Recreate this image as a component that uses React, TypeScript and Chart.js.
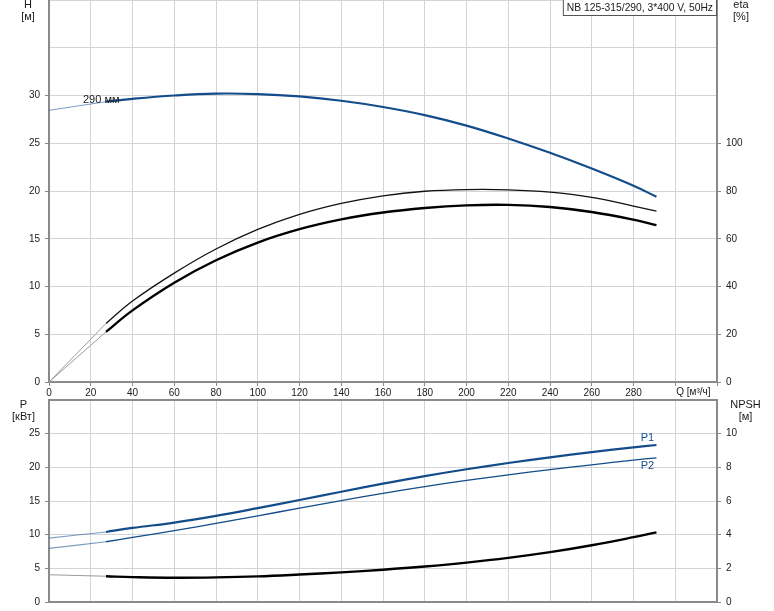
import React, { useEffect, useRef } from 'react';
import { Chart, registerables } from 'chart.js';

Chart.register(...registerables);

// ---- data ----
const qLead = [0, 27.3];
const qMain = [27.3, 40, 60, 80, 100, 120, 140, 160, 180, 200, 220, 240, 260, 280, 291];

const headLead = [28.45, 29.35];
const headMain = [29.35, 29.65, 30.0, 30.2, 30.15, 29.9, 29.45, 28.8, 27.95, 26.85, 25.5, 24.0, 22.35, 20.55, 19.4];

const etaPumpLead = [0, 24.5];
const etaPumpMain = [24.5, 33.9, 45.6, 55.7, 63.9, 70.2, 74.8, 78.0, 79.9, 80.6, 80.5, 79.5, 77.3, 73.7, 71.6];

const etaTotalLead = [0, 21.0];
const etaTotalMain = [21.0, 30.0, 41.6, 51.0, 58.4, 64.0, 68.1, 71.0, 72.9, 74.0, 74.2, 73.3, 71.2, 68.0, 65.7];

const p1Lead = [9.5, 10.4];
const p1Main = [10.4, 11.0, 11.8, 12.8, 13.95, 15.15, 16.37, 17.57, 18.69, 19.71, 20.64, 21.49, 22.27, 22.97, 23.32];

const p2Lead = [7.95, 8.95];
const p2Main = [8.95, 9.6, 10.6, 11.68, 12.8, 13.93, 15.05, 16.13, 17.13, 18.05, 18.89, 19.66, 20.38, 21.06, 21.42];

const npshLead = [1.62, 1.53];
const npshMain = [1.53, 1.48, 1.44, 1.46, 1.52, 1.63, 1.76, 1.92, 2.11, 2.34, 2.62, 2.96, 3.37, 3.85, 4.14];

const qTickLabels = [0, 20, 40, 60, 80, 100, 120, 140, 160, 180, 200, 220, 240, 260, 280];
const hTickLabels = [0, 5, 10, 15, 20, 25, 30];
const etaTickLabels = [0, 20, 40, 60, 80, 100];
const pTickLabels = [0, 5, 10, 15, 20, 25];
const npshTickLabels = [0, 2, 4, 6, 8, 10];

const titleText = 'NB 125-315/290, 3*400 V, 50Hz';
const curveLabel = '290 мм';

// ---- styles ----
const FONT = '"Liberation Sans", Arial, sans-serif';
const BLUE = '#134c8a';
const BLUE_LIGHT = 'rgba(19,76,138,0.55)';
const GRID = '#d2d4d7';
const AXIS = '#8a8a8a';
const TEXT = '#1a1a1a';
const LEAD = '#9a9a9a';

const xy = (qs: number[], vs: number[]) => qs.map((q, i) => ({ x: q, y: vs[i] }));

const line = (data: any[], color: string, width: number, axis: string) => ({
  data,
  borderColor: color,
  borderWidth: width,
  pointRadius: 0,
  fill: false,
  tension: 0.4,
  yAxisID: axis,
});

const zeroPad = (s: any) => {
  s.paddingTop = 0;
  s.paddingBottom = 0;
  s.paddingLeft = 0;
  s.paddingRight = 0;
};

const labelCb = (labels: number[]) => (v: any) => (labels.includes(Number(v)) ? String(v) : '');
const tickColorFor = (labels: number[]) => (ctx: any) =>
  ctx.tick && labels.includes(ctx.tick.value) ? AXIS : 'rgba(0,0,0,0)';

const tickFont = { family: FONT, size: 10 };

function xScale(showLabels: boolean, height: number) {
  return {
    type: 'linear' as const,
    position: 'bottom' as const,
    min: 0,
    max: 320,
    ticks: {
      stepSize: 20,
      autoSkip: false,
      maxRotation: 0,
      display: showLabels,
      font: tickFont,
      color: TEXT,
      padding: 1,
      callback: labelCb(qTickLabels),
    },
    grid: { color: GRID, lineWidth: 1, tickLength: 4, drawTicks: showLabels, tickColor: AXIS },
    border: { color: AXIS, width: 2 },
    afterFit: (s: any) => {
      s.height = height;
      zeroPad(s);
    },
  };
}

function yScale(pos: 'left' | 'right', max: number, step: number, labels: number[], width: number, onArea: boolean) {
  return {
    type: 'linear' as const,
    position: pos,
    min: 0,
    max,
    ticks: {
      stepSize: step,
      autoSkip: false,
      font: tickFont,
      color: TEXT,
      padding: 5,
      callback: labelCb(labels),
    },
    grid: {
      color: GRID,
      lineWidth: 1,
      drawOnChartArea: onArea,
      tickLength: 4,
      tickColor: tickColorFor(labels),
    },
    border: { color: AXIS, width: 2 },
    afterFit: (s: any) => {
      s.width = width;
      zeroPad(s);
    },
  };
}

const topTextPlugin = {
  id: 'topText',
  afterDraw(chart: any) {
    const { ctx, scales } = chart;
    ctx.save();
    ctx.fillStyle = TEXT;
    ctx.font = `11px ${FONT}`;
    ctx.textAlign = 'center';
    ctx.textBaseline = 'middle';
    ctx.fillText('H', 28, 5);
    ctx.fillText('[м]', 28, 17);
    ctx.fillText('eta', 741, 5);
    ctx.fillText('[%]', 741, 17);
    ctx.font = `10px ${FONT}`;
    ctx.textAlign = 'left';
    ctx.fillText('Q [м³/ч]', scales.x.getPixelForValue(300) + 1, 392.5);
    ctx.font = `11px ${FONT}`;
    ctx.fillText(curveLabel, 83, 99.5);
    // title box
    const right = chart.chartArea.right;
    ctx.font = `10.3px ${FONT}`;
    const w = ctx.measureText(titleText).width + 8;
    ctx.fillStyle = '#ffffff';
    ctx.fillRect(right - w, 0, w, 15.5);
    ctx.strokeStyle = '#555555';
    ctx.lineWidth = 1;
    ctx.strokeRect(right - w + 0.5, -0.5, w - 1, 16);
    ctx.fillStyle = TEXT;
    ctx.fillText(titleText, right - w + 4, 8);
    ctx.restore();
  },
};

const bottomTextPlugin = {
  id: 'bottomText',
  afterDraw(chart: any) {
    const { ctx, chartArea, scales } = chart;
    ctx.save();
    // top frame line
    ctx.strokeStyle = AXIS;
    ctx.lineWidth = 2;
    ctx.beginPath();
    ctx.moveTo(chartArea.left, chartArea.top);
    ctx.lineTo(chartArea.right, chartArea.top);
    ctx.stroke();
    ctx.fillStyle = TEXT;
    ctx.font = `11px ${FONT}`;
    ctx.textAlign = 'center';
    ctx.textBaseline = 'middle';
    ctx.fillText('P', 23.5, 7);
    ctx.fillText('[кВт]', 23.5, 19);
    ctx.fillText('NPSH', 745.5, 7);
    ctx.fillText('[м]', 745.5, 19);
    ctx.fillStyle = BLUE;
    const qEnd = qMain[qMain.length - 1];
    const ex = scales.x.getPixelForValue(qEnd);
    const y1 = scales.y.getPixelForValue(p1Main[p1Main.length - 1]);
    const y2 = scales.y.getPixelForValue(p2Main[p2Main.length - 1]);
    ctx.fillText('P1', ex - 9, y1 - 7);
    ctx.fillText('P2', ex - 9, y2 + 8);
    ctx.restore();
  },
};

export default function App() {
  const topRef = useRef<HTMLCanvasElement>(null);
  const botRef = useRef<HTMLCanvasElement>(null);

  useEffect(() => {
    if (!topRef.current || !botRef.current) return;
    const top = new Chart(topRef.current, {
      type: 'line',
      data: {
        datasets: [
          line(xy(qLead, headLead), BLUE_LIGHT, 1, 'y'),
          line(xy(qMain, headMain), BLUE, 2.2, 'y'),
          line(xy(qLead, etaPumpLead), LEAD, 1, 'y2'),
          line(xy(qMain, etaPumpMain), '#111111', 1.3, 'y2'),
          line(xy(qLead, etaTotalLead), LEAD, 1, 'y2'),
          line(xy(qMain, etaTotalMain), '#000000', 2.4, 'y2'),
        ],
      },
      options: {
        responsive: false,
        animation: false,
        layout: { padding: 0 },
        plugins: { legend: { display: false }, tooltip: { enabled: false }, title: { display: false } },
        scales: {
          x: xScale(true, 18),
          y: yScale('left', 40, 5, hTickLabels, 49, true),
          y2: yScale('right', 160, 20, etaTickLabels, 57, false),
        },
      } as any,
      plugins: [topTextPlugin],
    });
    const bot = new Chart(botRef.current, {
      type: 'line',
      data: {
        datasets: [
          line(xy(qLead, p1Lead), BLUE_LIGHT, 1.2, 'y'),
          line(xy(qMain, p1Main), BLUE, 2.2, 'y'),
          line(xy(qLead, p2Lead), BLUE_LIGHT, 1.2, 'y'),
          line(xy(qMain, p2Main), BLUE, 1.3, 'y'),
          line(xy(qLead, npshLead), LEAD, 1, 'y2'),
          line(xy(qMain, npshMain), '#000000', 2.4, 'y2'),
        ],
      },
      options: {
        responsive: false,
        animation: false,
        layout: { padding: { top: 2, left: 0, right: 0, bottom: 0 } },
        plugins: { legend: { display: false }, tooltip: { enabled: false }, title: { display: false } },
        scales: {
          x: xScale(false, 9),
          y: yScale('left', 30, 5, pTickLabels, 49, true),
          y2: yScale('right', 12, 2, npshTickLabels, 57, false),
        },
      } as any,
      plugins: [bottomTextPlugin],
    });
    return () => {
      top.destroy();
      bot.destroy();
    };
  }, []);

  return (
    <div style={{ position: 'absolute', left: 0, top: 0, width: 774, height: 611, background: '#ffffff' }}>
      <canvas ref={topRef} width={774} height={400} style={{ position: 'absolute', left: 0, top: 0 }} />
      <canvas ref={botRef} width={774} height={213} style={{ position: 'absolute', left: 0, top: 398 }} />
    </div>
  );
}
